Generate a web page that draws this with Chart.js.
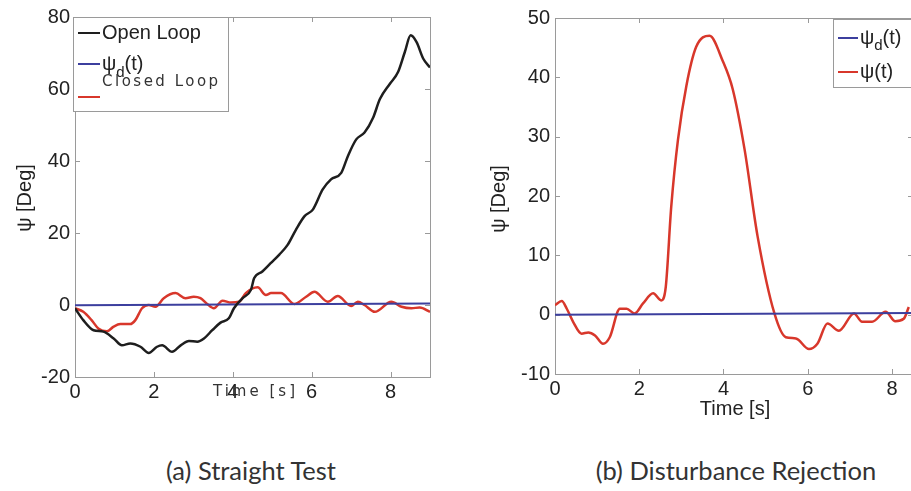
<!DOCTYPE html>
<html>
<head>
<meta charset="utf-8">
<script src="https://cdn.jsdelivr.net/npm/chart.js@4.4.1/dist/chart.umd.min.js"></script>
<style>
  html, body { margin: 0; padding: 0; background: #fff; overflow: hidden; width: 911px; height: 491px; }
  .panel { position: absolute; top: 0; height: 430px; }
  #panelA { left: 0; width: 460px; }
  #panelB { left: 460px; width: 480px; }
  .cap { position: absolute; top: 455px; font-family: Lato, sans-serif; font-size: 25.5px; color: #333;
         white-space: nowrap; transform: translateX(-50%); }
</style>
</head>
<body>
<div class="panel" id="panelA"><canvas id="straightChart"></canvas></div>
<div class="panel" id="panelB"><canvas id="rejectChart"></canvas></div>
<div class="cap" style="left:251px">(a) Straight Test</div>
<div class="cap" style="left:736px">(b) Disturbance Rejection</div>
<script>
// (a) straight test
const openTime = [0, 0.21, 0.47, 0.72, 0.98, 1.19, 1.4, 1.66, 1.87, 2.08, 2.21, 2.46, 2.68, 2.89, 3.1, 3.27, 3.48, 3.69, 3.9, 4.03,
  4.25, 4.46, 4.54, 4.75, 4.96, 5.18, 5.39, 5.6, 5.82, 6.03, 6.28, 6.49, 6.75, 6.92, 7.13, 7.34, 7.56, 7.73, 7.98, 8.19,
  8.36, 8.51, 8.66, 8.83, 9.0];
const openLoop = [-0.9, -4.2, -7, -7.4, -9.3, -11.2, -10.7, -11.6, -13.3, -11.6, -11.2, -13, -11.2, -10, -10.2, -9.3, -7, -4.9, -3.7, -0.9,
  1.9, 4.2, 7.4, 9.3, 11.6, 14, 16.7, 20.9, 24.7, 26.5, 32.1, 34.9, 36.7, 41.4, 46, 47.9, 52.1, 57.2, 61.4, 64.7,
  70.2, 74.9, 73, 68.4, 66];
const closedTime = [0, 0.21, 0.42, 0.59, 0.81, 0.98, 1.15, 1.4, 1.53, 1.7, 1.87, 2.04, 2.25, 2.55, 2.8, 3.01, 3.18, 3.35, 3.52, 3.74,
  3.95, 4.16, 4.33, 4.63, 4.84, 4.97, 5.22, 5.56, 5.86, 6.07, 6.41, 6.66, 7.0, 7.17, 7.34, 7.6, 8.02, 8.28, 8.53, 8.74, 9.0];
const closedLoop = [-0.9, -1.9, -4.2, -6.5, -7.3, -6, -5.3, -5.3, -4.2, -0.9, 0, -0.5, 1.9, 3.3, 1.9, 2.3, 1.9, 0.3, -0.9, 1.2,
  0.7, 0.9, 3.3, 4.9, 2.8, 3.3, 3.3, 0.3, 2.3, 3.7, 0.9, 2.5, -0.3, 0.9, 0, -1.9, 0.9, -0.5, -0.9, -0.7, -1.9];
const refTimeA = [0, 9];
const refA = [-0.1, 0.4];

// (b) disturbance rejection
const rejTime = [0, 0.16, 0.28, 0.43, 0.63, 0.79, 0.95, 1.14, 1.3, 1.54, 1.7, 1.89, 2.09, 2.33, 2.52, 2.63, 2.76, 2.92, 3.12, 3.35,
  3.67, 3.98, 4.22, 4.5, 4.81, 5.21, 5.48, 5.72, 6.03, 6.23, 6.47, 6.74, 7.1, 7.29, 7.53, 7.85, 8.08, 8.28, 8.4];
const rejPsi = [1.6, 2.3, 1, -1.2, -3.2, -3, -3.5, -4.9, -3.8, 1, 1, 0.2, 1.9, 3.6, 2.4, 4.7, 18.2, 29.5, 38.6, 45.1,
  47, 42.8, 38, 27.9, 13.2, 0.2, -3.8, -4, -5.8, -4.9, -1.5, -2.7, 0.2, -1.2, -1.2, 0.5, -1.1, -0.7, 1.3];
const refTimeB = [0, 8.5];
const refB = [0, 0.3];

const xTicks = [0, 2, 4, 6, 8];
const yTicksA = [-20, 0, 20, 40, 60, 80];
const yTicksB = [-10, 0, 10, 20, 30, 40, 50];

const pts = (xs, ys) => xs.map((x, i) => ({ x: x, y: ys[i] }));

const tickFont = { family: 'Liberation Sans', size: 20 };

// box round the axes with MATLAB style inward ticks
const framePlugin = {
  id: 'frame',
  beforeDatasetsDraw(chart) {
    const { ctx, chartArea: a, scales: { x, y } } = chart;
    const len = 5;
    ctx.save();
    ctx.strokeStyle = '#9a9a9a';
    ctx.lineWidth = 1;
    ctx.strokeRect(a.left + 0.5, a.top + 0.5, a.right - a.left, a.bottom - a.top);
    ctx.beginPath();
    x.ticks.forEach(t => {
      const px = Math.round(x.getPixelForValue(t.value)) + 0.5;
      ctx.moveTo(px, a.bottom); ctx.lineTo(px, a.bottom - len);
      ctx.moveTo(px, a.top); ctx.lineTo(px, a.top + len);
    });
    y.ticks.forEach(t => {
      const py = Math.round(y.getPixelForValue(t.value)) + 0.5;
      ctx.moveTo(a.left, py); ctx.lineTo(a.left + len, py);
      ctx.moveTo(a.right, py); ctx.lineTo(a.right - len, py);
    });
    ctx.stroke();
    ctx.restore();
  }
};

// legend drawn inside the plot, like the original figure
const boxLegend = {
  id: 'boxLegend',
  afterDraw(chart, args, o) {
    if (!o.rows) return;
    const ctx = chart.ctx;
    ctx.save();
    ctx.fillStyle = '#fff';
    ctx.fillRect(o.x, o.y, o.w, o.h);
    ctx.strokeStyle = '#9a9a9a';
    ctx.lineWidth = 1;
    ctx.strokeRect(o.x + 0.5, o.y + 0.5, o.w, o.h);
    chart.data.datasets.forEach((ds, i) => {
      const ry = o.rows[i];
      ctx.strokeStyle = ds.borderColor;
      ctx.lineWidth = 2;
      ctx.beginPath();
      ctx.moveTo(o.x + 5, ry);
      ctx.lineTo(o.x + 5 + o.lineLen, ry);
      ctx.stroke();
      if (ds.hideLegendText) return;
      let tx = o.x + 7 + o.lineLen;
      ctx.fillStyle = '#222';
      ctx.textBaseline = 'middle';
      [...ds.label].forEach((ch, k) => {
        const sub = ds.subIndex === k;
        ctx.font = sub ? '15px Liberation Sans' : '20px Liberation Sans';
        ctx.fillText(ch, tx, sub ? ry + o.subDrop : ry);
        tx += ctx.measureText(ch).width;
      });
    });
    ctx.restore();
  }
};

// free text: axis titles and the stray labels of the figure
const notes = {
  id: 'notes',
  afterDraw(chart, args, o) {
    const ctx = chart.ctx;
    (o.items || []).forEach(it => {
      ctx.save();
      ctx.font = it.font;
      ctx.fillStyle = it.color || '#222';
      ctx.textAlign = it.align || 'center';
      ctx.textBaseline = 'middle';
      if (it.spacing) ctx.letterSpacing = it.spacing;
      ctx.translate(it.x, it.y);
      if (it.rotate) ctx.rotate(it.rotate);
      ctx.fillText(it.text, 0, 0);
      ctx.restore();
    });
  }
};

function makeChart(id, datasets, cfg) {
  return new Chart(document.getElementById(id), {
    type: 'line',
    data: { datasets: datasets },
    options: {
      responsive: true,
      maintainAspectRatio: false,
      animation: false,
      layout: { padding: cfg.padding },
      elements: { point: { radius: 0 }, line: { cubicInterpolationMode: 'monotone' } },
      plugins: {
        legend: { display: false },
        tooltip: { enabled: false },
        boxLegend: cfg.legend,
        notes: { items: cfg.notes }
      },
      scales: {
        x: {
          type: 'linear',
          min: 0,
          max: cfg.xMax,
          grid: { display: false, drawTicks: false },
          border: { display: false },
          afterBuildTicks: s => { s.ticks = xTicks.map(v => ({ value: v })); },
          afterFit: s => { s.height = 30; },
          ticks: { font: tickFont, color: '#222', padding: 3, autoSkip: false, maxRotation: 0 }
        },
        y: {
          min: cfg.yTicks[0],
          max: cfg.yTicks[cfg.yTicks.length - 1],
          grid: { display: false, drawTicks: false },
          border: { display: false },
          afterBuildTicks: s => { s.ticks = cfg.yTicks.map(v => ({ value: v })); },
          afterFit: s => { s.width = cfg.yWidth; },
          ticks: { font: tickFont, color: '#222', padding: 5, autoSkip: false }
        }
      }
    },
    plugins: [framePlugin, boxLegend, notes]
  });
}

makeChart('straightChart', [
  { label: 'Open Loop', data: pts(openTime, openLoop), borderColor: '#1e1e1e', borderWidth: 2.5 },
  { label: 'ψd(t)', subIndex: 1, data: pts(refTimeA, refA), borderColor: '#3c3f9e', borderWidth: 2 },
  { label: 'Closed Loop', hideLegendText: true, data: pts(closedTime, closedLoop), borderColor: '#d8372b', borderWidth: 2.5 }
], {
  xMax: 9,
  yTicks: yTicksA,
  yWidth: 75,
  padding: { left: 0, top: 17, right: 30, bottom: 23 },
  legend: { x: 73, y: 17, w: 155, h: 94, lineLen: 22, subDrop: 9, rows: [33, 64, 97] },
  notes: [
    { text: 'ψ [Deg]', x: 25, y: 198, rotate: -Math.PI / 2, font: '20px Liberation Sans' },
    { text: 'Closed Loop', x: 102, y: 82, align: 'left', font: '15px DejaVu Sans', spacing: '2.5px', color: '#333' },
    { text: 'Time [s]', x: 213, y: 392, align: 'left', font: '15px DejaVu Sans', spacing: '3px', color: '#333' }
  ]
});

makeChart('rejectChart', [
  { label: 'ψd(t)', subIndex: 1, data: pts(refTimeB, refB), borderColor: '#3c3f9e', borderWidth: 2 },
  { label: 'ψ(t)', data: pts(rejTime, rejPsi), borderColor: '#d8372b', borderWidth: 2.5 }
], {
  xMax: 8.5,
  yTicks: yTicksB,
  yWidth: 95,
  padding: { left: 0, top: 18, right: 27, bottom: 26 },
  legend: { x: 373, y: 19, w: 100, h: 68, lineLen: 20, subDrop: 8, rows: [38, 72] },
  notes: [
    { text: 'ψ [Deg]', x: 39, y: 199, rotate: -Math.PI / 2, font: '20px Liberation Sans' },
    { text: 'Time [s]', x: 275, y: 409, font: '20px Liberation Sans' }
  ]
});
</script>
</body>
</html>
